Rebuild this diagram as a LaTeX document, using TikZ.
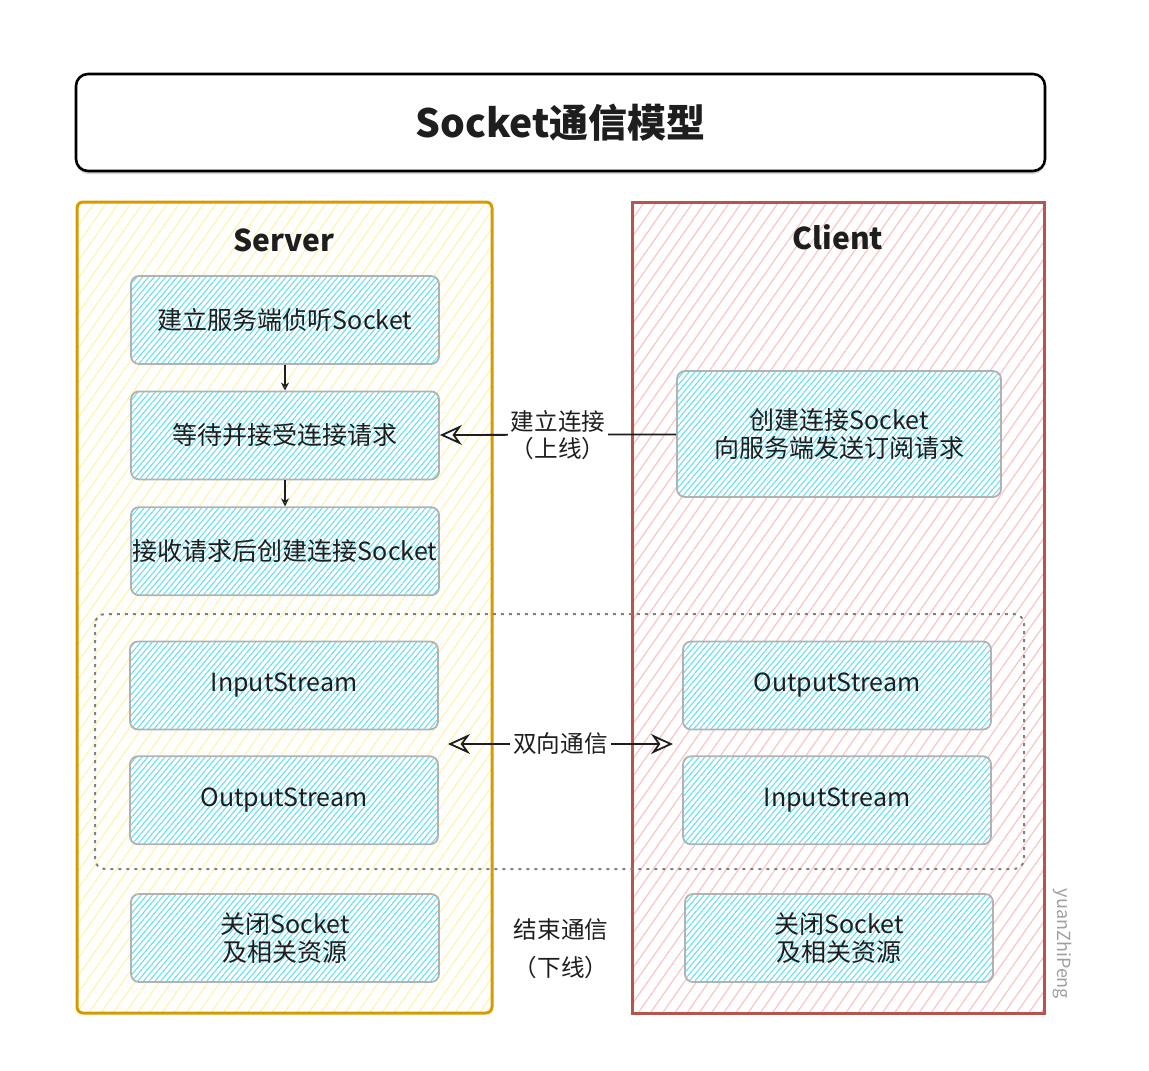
\documentclass[tikz,border=0pt]{standalone}
\usepackage{fontspec}
\setmainfont{Noto Sans CJK SC}
\usetikzlibrary{positioning,patterns.meta,arrows.meta,shadows}
\definecolor{srvline}{RGB}{214,155,0}
\definecolor{srvhatch}{RGB}{255,244,175}
\definecolor{cliline}{RGB}{184,84,80}
\definecolor{clihatch}{RGB}{248,196,196}
\definecolor{boxhatch}{RGB}{90,224,240}
\definecolor{boxline}{RGB}{178,178,178}
\definecolor{ink}{RGB}{30,30,30}

\begin{document}
\begin{tikzpicture}[x=0.5pt,y=-0.5pt]
\tikzset{stepbox/.style ={draw=boxline, line width=0.9pt, rounded corners=4pt,
    preaction={fill=white},
    pattern={Lines[angle=50,distance=2.2pt,line width=0.5pt]}, pattern color=boxhatch,
    minimum width=154pt, minimum height=44pt, inner sep=1pt, align=center,
    text=ink, font=\fontsize{12.5}{14}\selectfont},
  lane/.style ={line width=1.5pt, minimum width=207.5pt, minimum height=405.5pt},
  lanehead/.style ={text=ink, font=\fontsize{15}{18}\bfseries},
  msg/.style ={fill=white, inner sep=1.5pt, align=center, text=ink,
    font=\fontsize{11.8}{13.5}\selectfont},
  flow/.style ={draw=ink, line width=0.6pt, -{Stealth[open,length=4pt,width=4pt]}},
  link/.style ={draw=ink, line width=0.9pt}}
% \tikzset{titlebox/.style={draw, rounded corners}}
\useasboundingbox (0,0) rectangle (1149,1070);

\node[draw=black, line width=1.3pt, rounded corners=6pt, fill=white,
  drop shadow={shadow xshift=0pt, shadow yshift=-1.5pt, opacity=0.35},
  minimum width=484.5pt, minimum height=48.5pt, text=ink,
  font=\fontsize{19.5}{24}\bfseries] (title) at (560.5,122.5) {Socket通信模型};

\node[lane, draw=srvline, rounded corners=3pt,
  pattern={Lines[angle=55,distance=5pt,line width=0.6pt]}, pattern color=srvhatch]
  (server) at (284.5,607.5) {};
\node[lane, draw=cliline,
  pattern={Lines[angle=55,distance=5pt,line width=0.6pt]}, pattern color=clihatch,
  minimum width=206pt] (client) at (838,607.5) {};
\node[lanehead] (srvhead) at (284,240) {Server};
\node[lanehead] (clihead) at (838,237) {Client};

\draw[draw=gray, line width=1pt, dash pattern=on 1.5pt off 2.5pt, rounded corners=5pt]
  (95,614) rectangle (1024,869);

\node[stepbox] (listen) at (285,320) {建立服务端侦听Socket};
\node[stepbox, below=13pt of listen] (accept) {等待并接受连接请求};
\node[stepbox, below=13pt of accept] (conn) {接收请求后创建连接Socket};
\node[stepbox] (srvin) at (284,685.5) {InputStream};
\node[stepbox, below=12.5pt of srvin] (srvout) {OutputStream};
\node[stepbox] (srvclose) at (285,938) {关闭Socket\\及相关资源};

\node[stepbox, minimum width=162pt, minimum height=63pt] (request) at (839,434)
  {创建连接Socket\\向服务端发送订阅请求};
\node[stepbox] (cliout) at (837,685.5) {OutputStream};
\node[stepbox, below=12.5pt of cliout] (cliin) {InputStream};
\node[stepbox] (cliclose) at (839,938) {关闭Socket\\及相关资源};

\draw[flow] (listen) -- (accept);
\draw[flow] (accept) -- (conn);
\draw[link, -{Stealth[open,length=11pt,width=10pt]}] (request) --
  node[msg] (online) {建立连接\\（上线）} (accept);

\coordinate (duleft) at (448,744);
\coordinate (duright) at (673,744);
\draw[link, {Stealth[open,length=11pt,width=10pt]}-{Stealth[open,length=11pt,width=10pt]}]
  (duleft) -- node[msg] (duplex) {双向通信} (duright);

\node[msg, font=\fontsize{11.8}{19}\selectfont] (offline) at (561,949) {结束通信\\（下线）};
\node[rotate=-90, text=gray!75, font=\fontsize{9}{10}\selectfont] (sign) at (1062,944) {yuanZhiPeng};
\end{tikzpicture}
\end{document}
